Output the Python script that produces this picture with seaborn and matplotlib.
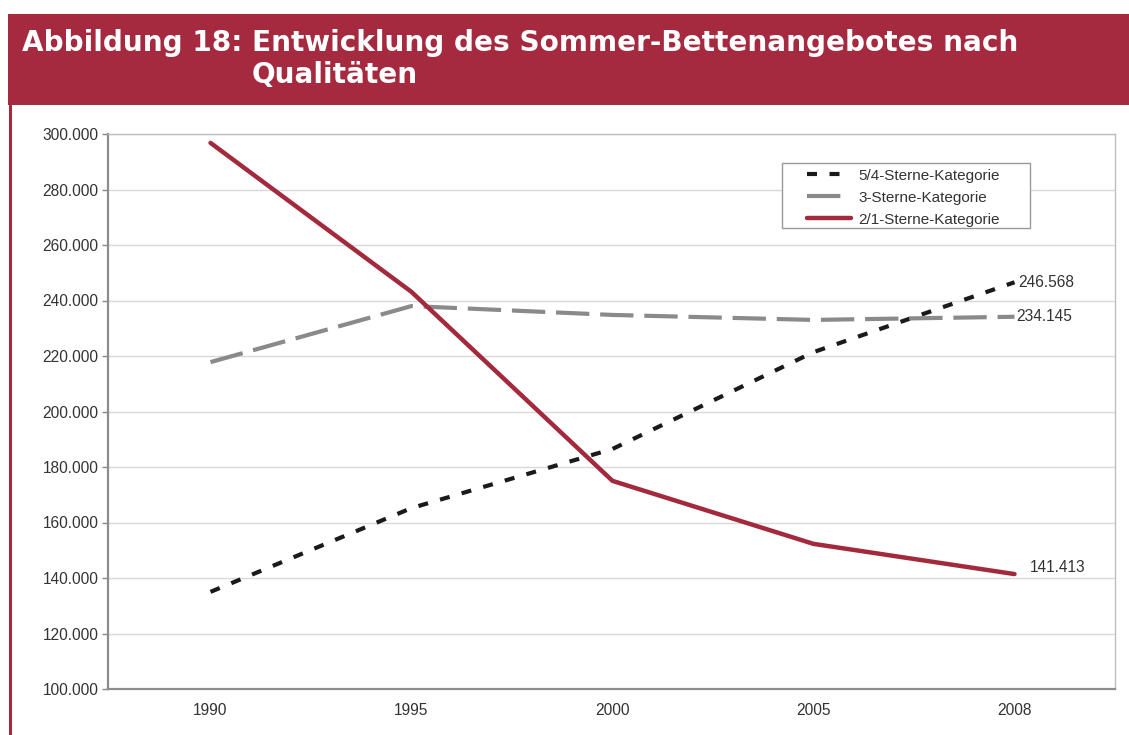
import pandas as pd
import matplotlib
matplotlib.use('Agg')
import matplotlib.pyplot as plt
import seaborn as sns
from matplotlib.patches import Rectangle
from matplotlib.lines import Line2D
from matplotlib.ticker import FuncFormatter

# data
years = ['1990', '1995', '2000', '2005', '2008']
sterne_54 = [135000, 165200, 186500, 221400, 246568]
sterne_3 = [217800, 238000, 234800, 233000, 234145]
sterne_21 = [296800, 243100, 175000, 152300, 141413]
series_names = ['5/4-Sterne-Kategorie', '3-Sterne-Kategorie', '2/1-Sterne-Kategorie']
end_labels = ['246.568', '234.145', '141.413']

header_red = '#A52A3F'
line_red = '#A3293D'
text_grey = '#333333'

sns.set_theme(style='white')
plt.rcParams['font.family'] = ['Liberation Sans', 'DejaVu Sans']

fig = plt.figure(figsize=(11.29, 7.35), dpi=100)

# title band
fig.patches.append(Rectangle((8 / 1129, 1 - 105 / 735), 1 - 8 / 1129, 91 / 735,
                             transform=fig.transFigure, facecolor=header_red,
                             edgecolor='none', zorder=0))
fig.lines.append(Line2D([9.5 / 1129, 9.5 / 1129], [0, 1 - 105 / 735],
                        transform=fig.transFigure, color=header_red, lw=2.2))
fig.text(22 / 1129, 1 - 43 / 735, 'Abbildung 18: Entwicklung des Sommer-Bettenangebotes nach',
         color='white', fontsize=20.1, fontweight='bold', family='DejaVu Sans',
         va='center', ha='left')
fig.text(252 / 1129, 1 - 75 / 735, 'Qualitäten',
         color='white', fontsize=20.1, fontweight='bold', family='DejaVu Sans',
         va='center', ha='left')

ax = fig.add_axes([108 / 1129, 1 - 689 / 735, 1007 / 1129, 555 / 735])

df = pd.DataFrame({'Jahr': years, series_names[0]: sterne_54,
                   series_names[1]: sterne_3, series_names[2]: sterne_21})

styles = {
    series_names[0]: dict(color='#1a1a1a', lw=3.0, dashes=(2.4, 3.0)),
    series_names[1]: dict(color='#8a8a8a', lw=3.0, dashes=(8.0, 2.6)),
    series_names[2]: dict(color=line_red, lw=3.2, dashes=None),
}

for name in series_names:
    st = styles[name]
    sns.lineplot(data=df, x='Jahr', y=name, ax=ax, color=st['color'],
                 linewidth=st['lw'], label=name, sort=False)
    if st['dashes'] is not None:
        ax.lines[-1].set_dashes(st['dashes'])

ax.set_xlim(-0.51, 4.5)
ax.set_ylim(100000, 300000)
ax.set_yticks(range(100000, 300001, 20000))
ax.yaxis.set_major_formatter(FuncFormatter(lambda v, p: f'{v:,.0f}'.replace(',', '.')))
ax.set_xlabel('')
ax.set_ylabel('')
ax.grid(axis='y', color='#d9d9d9', lw=1.0)
ax.tick_params(axis='y', length=4, width=1, color='#888888', labelsize=11.2,
               labelcolor=text_grey, pad=3, left=True, direction='out')
ax.tick_params(axis='x', length=0, labelsize=11.2, labelcolor=text_grey, pad=10)

for side in ['left', 'bottom']:
    ax.spines[side].set_color('#8c8c8c')
    ax.spines[side].set_linewidth(1.6)
for side in ['top', 'right']:
    ax.spines[side].set_color('#bdbdbd')
    ax.spines[side].set_linewidth(1.0)

# labels at the 2008 end points
ends = [sterne_54[-1], sterne_3[-1], sterne_21[-1]]
offsets = [(3, 0), (1, 0), (11, 5)]
for val, txt, (dx, dy) in zip(ends, end_labels, offsets):
    ax.annotate(txt, xy=(4, val), xytext=(dx, dy), textcoords='offset points',
                fontsize=11.2, color=text_grey, ha='left', va='center')

# legend without its own frame; box drawn separately to match the wide padding
ax.add_patch(Rectangle((0.6693, 0.8306), 0.2463, 0.1171, transform=ax.transAxes,
                       facecolor='white', edgecolor='#999999', lw=1.0, zorder=4))
leg = ax.legend(loc='upper left', bbox_to_anchor=(0.6941, 0.9376), fontsize=11,
                frameon=False, handlelength=2.9, handletextpad=0.45,
                borderpad=0, labelspacing=0.52, borderaxespad=0)
leg.set_zorder(5)
for t in leg.get_texts():
    t.set_color(text_grey)

fig.savefig('out.png', dpi=100)
